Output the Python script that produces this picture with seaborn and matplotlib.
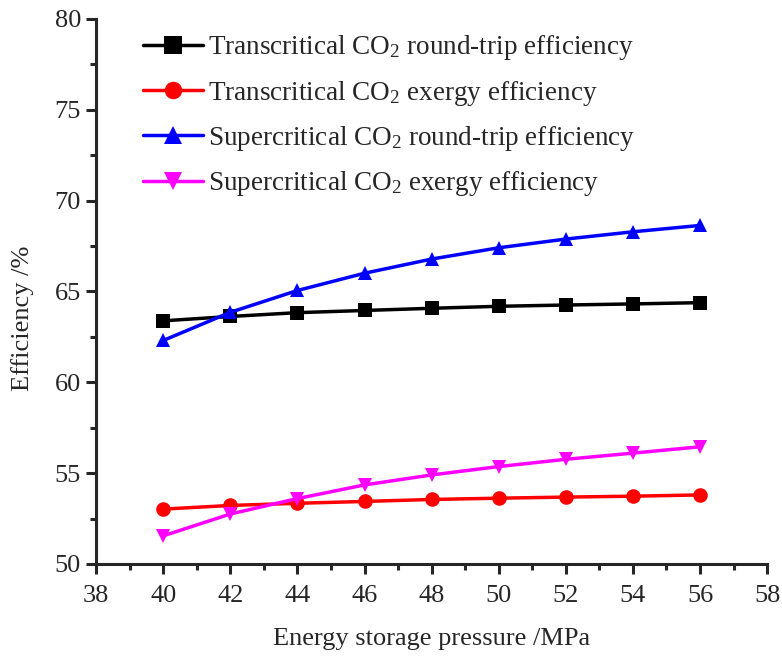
import numpy as np
import pandas as pd

import matplotlib
matplotlib.use('agg')
import matplotlib.pyplot as plt
import seaborn as sns
from matplotlib.ticker import MultipleLocator

# pressure (MPa) and efficiencies (%)
pressure = [40, 42, 44, 46, 48, 50, 52, 54, 56]
trans_rt = [63.38, 63.62, 63.83, 63.95, 64.07, 64.18, 64.25, 64.31, 64.38]
trans_ex = [53.02, 53.22, 53.34, 53.44, 53.55, 53.62, 53.68, 53.73, 53.80]
super_rt = [62.3, 63.85, 65.05, 66.0, 66.78, 67.4, 67.88, 68.28, 68.63]
super_ex = [51.55, 52.75, 53.6, 54.35, 54.9, 55.36, 55.76, 56.1, 56.45]

labels = ['Transcritical CO$_2$ round-trip efficiency',
          'Transcritical CO$_2$ exergy efficiency',
          'Supercritical CO$_2$ round-trip efficiency',
          'Supercritical CO$_2$ exergy efficiency']
colors = ['black', 'red', 'blue', 'magenta']
markers = ['s', 'o', '^', 'v']

sns.set_style('ticks')
plt.rcParams['font.family'] = ['Liberation Serif', 'DejaVu Serif']
plt.rcParams['mathtext.fontset'] = 'custom'
plt.rcParams['mathtext.rm'] = 'Liberation Serif'
plt.rcParams['mathtext.it'] = 'Liberation Serif'

data = pd.DataFrame({
    'pressure': pressure * 4,
    'eff': trans_rt + trans_ex + super_rt + super_ex,
    'series': sum([[l] * len(pressure) for l in labels], []),
})

fig = plt.figure(figsize=(7.82, 6.6), dpi=100)
ax = fig.add_axes([0.123, 0.1455, 0.858, 0.826])

sns.lineplot(data=data, x='pressure', y='eff', hue='series', style='series',
             hue_order=labels, style_order=labels, palette=colors,
             markers=markers, dashes=False, markersize=10.5, linewidth=2.5,
             markeredgewidth=0, ax=ax)

ax.set_xlim(38, 58)
ax.set_ylim(50, 80)
ax.xaxis.set_major_locator(MultipleLocator(2))
ax.xaxis.set_minor_locator(MultipleLocator(1))
ax.yaxis.set_major_locator(MultipleLocator(5))
ax.yaxis.set_minor_locator(MultipleLocator(2.5))
sns.despine(ax=ax)
for s in ['left', 'bottom']:
    ax.spines[s].set_linewidth(2.2)
ax.tick_params(which='major', length=7, width=2.2, labelsize=19, direction='out', pad=4)
ax.tick_params(axis='x', which='major', pad=8)
ax.tick_params(which='minor', length=4, width=2.2, direction='out')

ax.set_xlabel('Energy storage pressure /MPa', fontsize=19, labelpad=15)
ax.set_ylabel('Efficiency /%', fontsize=19, labelpad=8)
ax.yaxis.set_label_coords(-0.093, 0.45)

leg = ax.legend(loc='upper left', bbox_to_anchor=(0.042, 1.008), frameon=False,
                fontsize=19.5, handlelength=2.2, handletextpad=0.18,
                labelspacing=0.6, borderpad=0.2, markerscale=1.2)

fig.savefig('out.png', dpi=100)
